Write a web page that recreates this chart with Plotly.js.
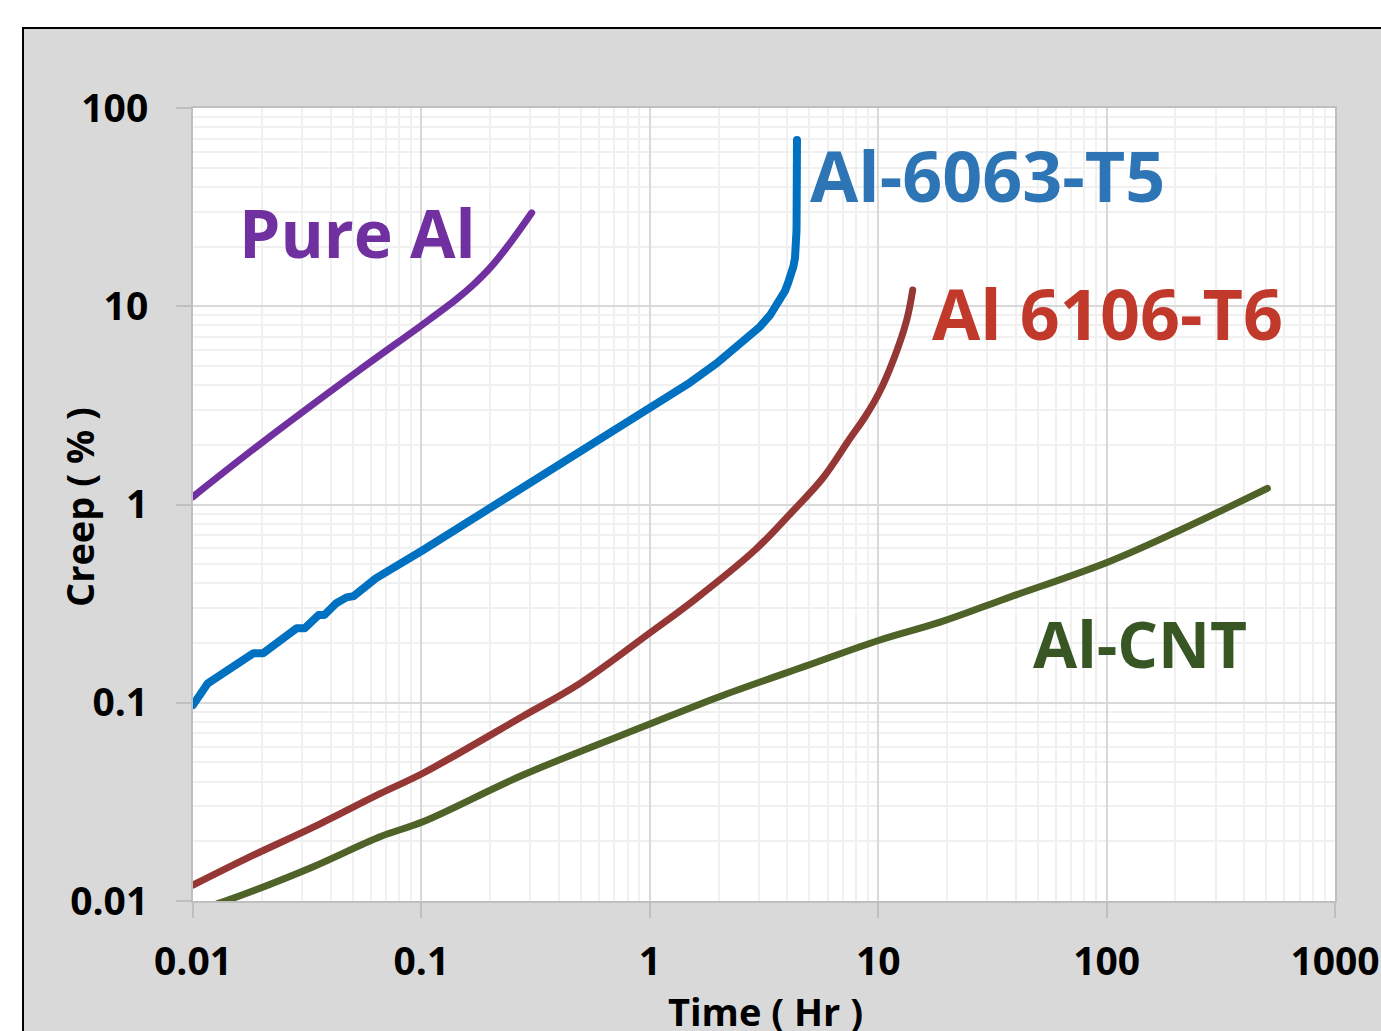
<!DOCTYPE html>
<html>
<head>
<meta charset="utf-8">
<script src="https://cdn.plot.ly/plotly-3.0.1.min.js"></script>
<style>
  html, body { margin: 0; padding: 0; background: #ffffff; overflow: hidden; width: 1381px; height: 1031px; }
  #frame { position: absolute; left: 22px; top: 27px; width: 1400px; height: 1100px; background: #d9d9d9; border: 2px solid #000; box-sizing: border-box; }
  #chart { position: absolute; left: 0; top: 0; width: 1381px; height: 1031px; }
  .js-line { stroke-linecap: round !important; stroke-linejoin: round !important; }
</style>
</head>
<body>
<div id="frame"></div>
<div id="chart"></div>
<script>
// ---- data ----
const pureAlTime  = [0.01, 0.019, 0.0521, 0.102, 0.1427, 0.1683, 0.1998, 0.2443, 0.304];
const pureAlCreep = [1.095, 1.957, 4.66, 8.14, 10.88, 12.8, 15.6, 20.8, 29.6];

const t5Time  = [0.01, 0.01161, 0.01835, 0.02027, 0.02844, 0.0308, 0.03544, 0.03761, 0.04236, 0.047, 0.0505, 0.0631, 0.1018, 0.1579, 0.287, 0.522, 1.028, 1.50, 1.963, 2.483, 3.037, 3.36, 3.715, 3.907, 4.03, 4.152, 4.25, 4.323, 4.365, 4.389, 4.41];
const t5Creep = [0.0974, 0.1253, 0.1776, 0.1776, 0.2374, 0.2374, 0.277, 0.277, 0.3175, 0.34, 0.345, 0.4243, 0.5896, 0.809, 1.244, 1.914, 3.114, 4.12, 5.155, 6.504, 7.885, 9.01, 10.75, 11.94, 13.1, 14.38, 15.84, 17.51, 19.2, 24.2, 69];

const t6Time  = [0.01, 0.01718, 0.03363, 0.0659, 0.1015, 0.2783, 0.4947, 1.006, 1.566, 2.888, 4.14, 5.727, 7.52, 8.75, 10.08, 11.65, 13.33, 14.16];
const t6Creep = [0.01204, 0.01642, 0.0236, 0.0348, 0.0441, 0.0855, 0.1253, 0.226, 0.33, 0.5896, 0.903, 1.36, 2.15, 2.763, 3.651, 5.36, 8.52, 12.08];

const cntTime  = [0.01, 0.0127, 0.01718, 0.03363, 0.0659, 0.1015, 0.2783, 1.0, 2.016, 4.96, 10.18, 18.65, 34.77, 102.3, 210.4, 505.8];
const cntCreep = [0.0088, 0.00966, 0.01094, 0.0149, 0.0211, 0.0251, 0.0432, 0.0781, 0.1073, 0.155, 0.2073, 0.255, 0.33, 0.5147, 0.7436, 1.207];

const tickVals  = [0.01, 0.1, 1, 10, 100, 1000];
const tickText  = ['0.01', '0.1', '1', '10', '100', '1000'];
const yTickVals = [0.01, 0.1, 1, 10, 100];
const yTickText = ['0.01', '0.1', '1', '10', '100'];

const seriesNames = ['Pure Al', 'Al-6063-T5', 'Al 6106-T6', 'Al-CNT'];
// label anchor positions in data units
const labelTime  = [0.0525, 30.1, 100.4, 140.7];
const labelCreep = [23.8, 45.9, 9.25, 0.2001];

const FONT = '"Open Sans", "Noto Sans", sans-serif';

const traces = [
  {x: pureAlTime, y: pureAlCreep, mode: 'lines', line: {color: '#7030a0', width: 7, shape: 'spline', smoothing: 1}},
  {x: t5Time, y: t5Creep, mode: 'lines', line: {color: '#0070c0', width: 8, shape: 'linear'}},
  {x: t6Time, y: t6Creep, mode: 'lines', line: {color: '#953735', width: 7, shape: 'spline', smoothing: 1}},
  {x: cntTime, y: cntCreep, mode: 'lines', line: {color: '#4f6228', width: 7, shape: 'spline', smoothing: 1}}
].map((t, i) => Object.assign(t, {name: seriesNames[i], showlegend: false, hoverinfo: 'x+y+name'}));

const labelColors = ['#7030a0', '#2e75b6', '#c0392b', '#375623'];
const labelSizes  = [66, 70, 70, 64];

const annotations = seriesNames.map((n, i) => ({
  text: n, xref: 'x', yref: 'y',
  x: Math.log10(labelTime[i]), y: Math.log10(labelCreep[i]),
  xanchor: 'center', yanchor: 'middle', showarrow: false,
  font: {family: FONT, size: labelSizes[i], color: labelColors[i], weight: 700}
}));

annotations.push({
  text: 'Creep ( % )', xref: 'paper', yref: 'paper', x: -0.0998, y: 0.4968,
  xanchor: 'center', yanchor: 'middle', textangle: -90, showarrow: false,
  font: {family: FONT, size: 38, color: '#000', weight: 700}
});
annotations.push({
  text: 'Time ( Hr )', xref: 'paper', yref: 'paper', x: 0.5009, y: -0.1385,
  xanchor: 'center', yanchor: 'middle', showarrow: false,
  font: {family: FONT, size: 38, color: '#000', weight: 700}
});

const axisCommon = {
  type: 'log',
  ticks: 'outside', ticklen: 15, tickwidth: 2, tickcolor: '#bfbfbf',
  showline: true, linecolor: '#bfbfbf', linewidth: 2, mirror: true,
  showgrid: true, gridcolor: '#d9d9d9', gridwidth: 2,
  zeroline: false,
  minor: {dtick: 'D1', showgrid: true, gridcolor: '#f0f0f0', gridwidth: 2, ticks: ''},
  tickfont: {family: FONT, size: 39, color: '#000', weight: 700},
  automargin: false
};

const layout = {
  width: 1381, height: 1031, autosize: false,
  margin: {l: 193, r: 46, t: 108, b: 130},
  paper_bgcolor: 'rgba(0,0,0,0)', plot_bgcolor: '#ffffff',
  xaxis: Object.assign({}, axisCommon, {range: [-2, 3], tickvals: tickVals, ticktext: tickText, ticklabelstandoff: 10}),
  yaxis: Object.assign({}, axisCommon, {range: [-2, 2], tickvals: yTickVals, ticktext: yTickText, ticklabelstandoff: 20}),
  annotations: annotations,
  showlegend: false
};

Plotly.newPlot('chart', traces, layout, {displayModeBar: false, staticPlot: true});
</script>
</body>
</html>
